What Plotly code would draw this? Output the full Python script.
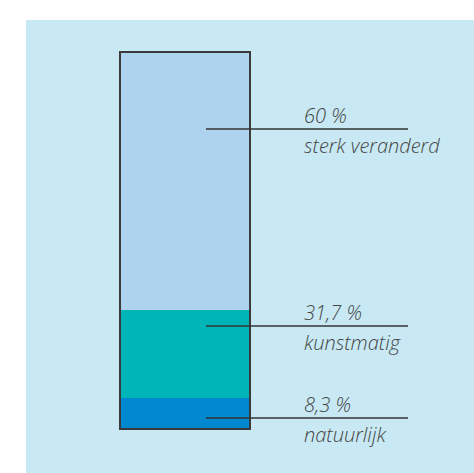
import plotly.graph_objects as go

# categories bottom -> top
categories = ["natuurlijk", "kunstmatig", "sterk veranderd"]
share_labels = ["8,3 %", "31,7 %", "60 %"]
# segment heights as drawn in the picture (% of bar height)
bar_heights = [8.2, 23.3, 68.5]
# where each leader line meets the bar (% of bar height)
leader_y = [2.9, 27.3, 79.6]

colors = ["#0089d1", "#00b5b8", "#aed3ef"]
text_color = "#454545"
font_family = "'Open Sans', Lato, sans-serif"

fig = go.Figure()

for cat, h, c in zip(categories, bar_heights, colors):
    fig.add_trace(go.Bar(
        x=[185], y=[h], width=130, name=cat,
        marker=dict(color=c, line=dict(width=0)),
        hoverinfo="skip"
    ))

# light blue panel behind the chart
fig.add_shape(type="rect", xref="x", yref="y", x0=26, x1=480, y0=-20, y1=100 * (429 - 20) / 377,
              fillcolor="#c8e9f4", line=dict(width=0), layer="below")

# outline round the whole bar
fig.add_shape(type="rect", xref="x", yref="y", x0=120, x1=250, y0=0, y1=100,
              line=dict(color="#3a3a3a", width=2), fillcolor="rgba(0,0,0,0)")

for lab, cat, ly in zip(share_labels, categories, leader_y):
    fig.add_shape(type="line", xref="x", yref="y", x0=206, x1=408, y0=ly, y1=ly,
                  line=dict(color="#333333", width=1.5))
    fig.add_annotation(x=302, y=ly, text=lab, showarrow=False, xanchor="left", yanchor="bottom",
                       yshift=-2, font=dict(family=font_family, size=20, color=text_color,
                                            style="italic", weight=300))
    fig.add_annotation(x=302, y=ly, text=cat, showarrow=False, xanchor="left", yanchor="top",
                       yshift=-1, font=dict(family=font_family, size=20, color=text_color,
                                            style="italic", weight=300))

fig.update_layout(
    width=474, height=473,
    margin=dict(l=0, r=0, t=0, b=0),
    barmode="stack",
    showlegend=False,
    paper_bgcolor="white",
    plot_bgcolor="white",
    xaxis=dict(range=[0, 474], visible=False, domain=[0, 1]),
    yaxis=dict(range=[100 * (429 - 473) / 377, 100 * 429 / 377], visible=False, domain=[0, 1]),
)

# drop the browser's default body margin so the figure fills the window
fig.write_html("out.html", config={"displayModeBar": False},
               post_script="document.body.style.margin='0';document.body.style.overflow='hidden';")
